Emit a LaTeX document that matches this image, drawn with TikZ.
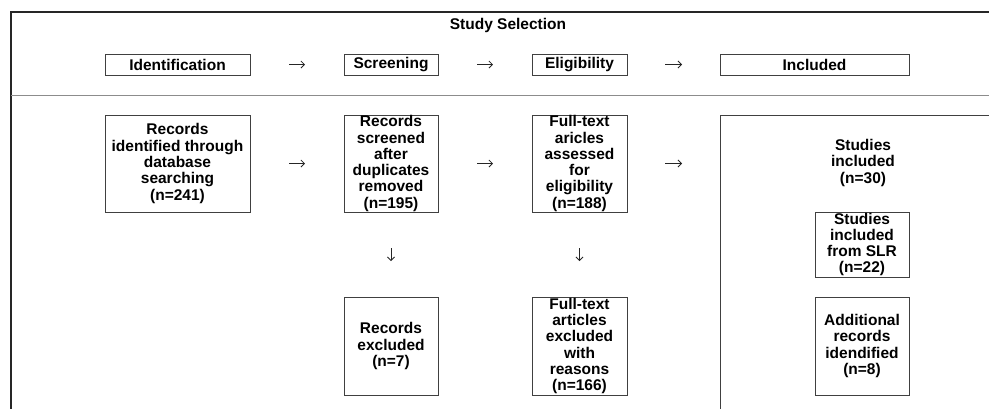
\documentclass[tikz,border=0pt]{standalone}
\usepackage{fontspec}
\setmainfont{Liberation Sans}
\usetikzlibrary{arrows.meta,positioning}

\begin{document}
\begin{tikzpicture}[
  x=1pt,y=-1pt,
  font=\fontsize{15.5}{16.3}\selectfont\bfseries,
  box/.style={draw=black!75,line width=0.9pt,inner sep=0pt,outer sep=0pt,align=center,fill=white},
  hbox/.style={box,minimum height=21pt},
  txt/.style={inner sep=0pt,align=center},
  arr/.style={-{Straight Barb[length=3.5pt,width=7pt]},line width=0.8pt,black!85},
  harr/.style={arr,shorten <=39pt,shorten >=39pt},
  varr/.style={arr,shorten <=36pt,shorten >=36pt},
]
\clip (0,0) rectangle (989,408);

%% ---- Frame -----------------------------------------------------------------
\draw[line width=1.2pt,black!85] (11,430) |- (1010,12);
\draw[line width=1pt,black!45] (11,95) -- (1010,95);
\node[txt] (title) at (508,25) {Study Selection};

%% ---- Phase headers ---------------------------------------------------------
\node[hbox,minimum width=145pt,anchor=north west] (hident) at (105,54) {Identification};
\node[hbox,minimum width=94pt,right=94pt of hident] (hscreen) {Screening};
\node[hbox,minimum width=95pt,right=94pt of hscreen] (helig) {Eligibility};
\node[hbox,minimum width=189pt,right=93pt of helig] (hincl) {Included};

\draw[harr] (hident) -- (hscreen);
\draw[harr] (hscreen) -- (helig);
\draw[harr,shorten <=38pt,shorten >=38pt] (helig) -- (hincl);

%% ---- Main row --------------------------------------------------------------
\node[box,minimum width=145pt,minimum height=97pt,anchor=north west] (recid) at (105,115)
  {Records\\identified through\\database\\searching\\(n=241)};
\node[box,minimum width=94pt,minimum height=97pt,right=94pt of recid] (recscr)
  {Records\\screened\\after\\duplicates\\removed\\(n=195)};
\node[box,minimum width=95pt,minimum height=97pt,right=94pt of recscr] (ftass)
  {Full-text\\aricles\\assessed\\for\\eligibility\\(n=188)};

%% ---- Included panel --------------------------------------------------------
\node[box,minimum width=286pt,minimum height=320pt,anchor=north west] (incl) at (720,115) {};
\node[txt,below=24pt of incl.north] (nstud) {Studies\\included\\(n=30)};
\node[box,minimum width=94pt,minimum height=65pt,anchor=north] (slr) at (862,212)
  {Studies\\included\\from SLR\\(n=22)};
\node[box,minimum width=94pt,minimum height=98pt,below=20pt of slr] (addrec)
  {Additional\\records\\idendified\\(n=8)};

%% ---- Excluded row ----------------------------------------------------------
\node[box,minimum width=94pt,minimum height=98pt,below=85pt of recscr] (recexc)
  {Records\\excluded\\(n=7)};
\node[box,minimum width=95pt,minimum height=98pt,below=85pt of ftass] (ftexc)
  {Full-text\\articles\\excluded\\with\\reasons\\(n=166)};

%% ---- Arrows ----------------------------------------------------------------
\draw[harr] (recid) -- (recscr);
\draw[harr] (recscr) -- (ftass);
\draw[harr,shorten <=38pt,shorten >=38pt] (ftass.east) -- (ftass.east -| incl.west);
\draw[varr] (recscr) -- (recexc);
\draw[varr] (ftass) -- (ftexc);

\end{tikzpicture}
\end{document}
